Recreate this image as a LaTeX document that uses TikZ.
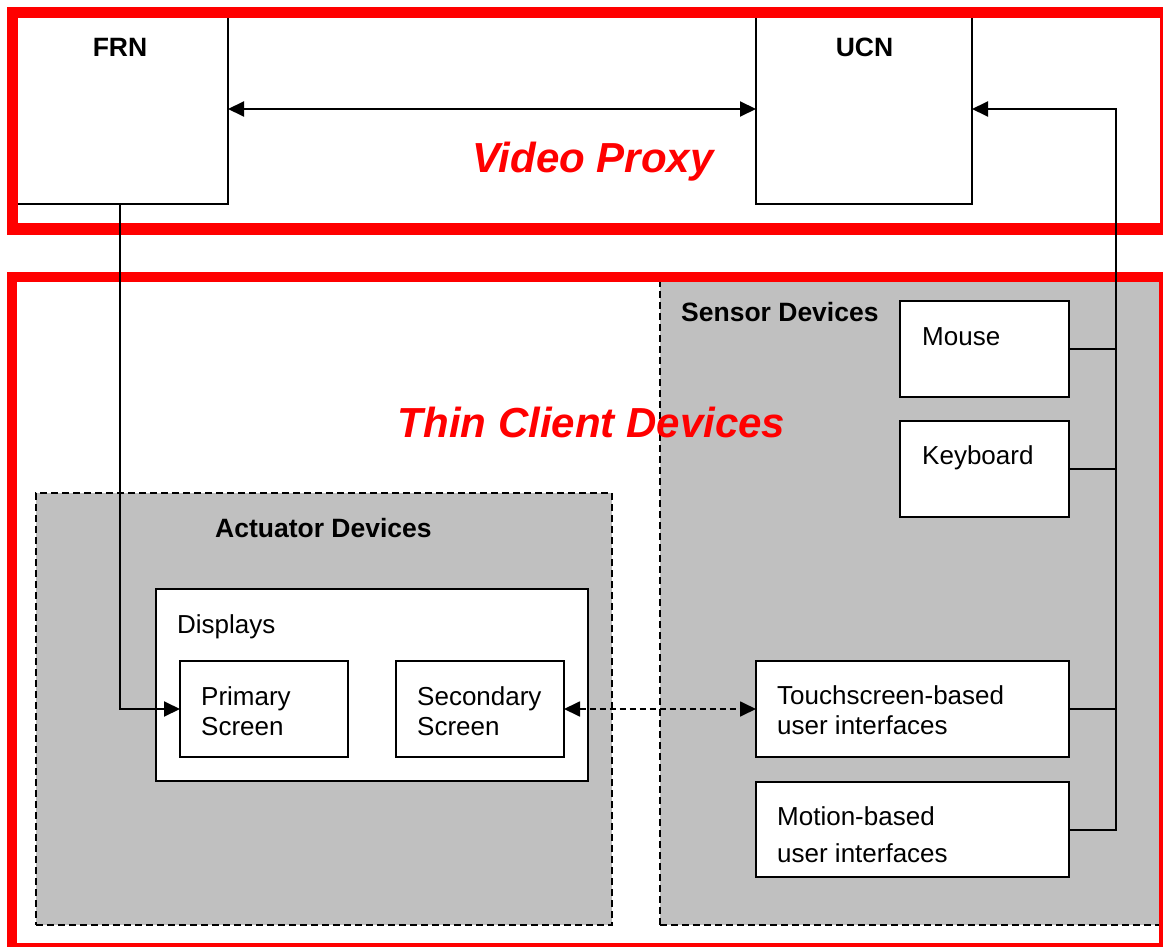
\documentclass[tikz,border=0pt]{standalone}
\usepackage{fontspec}
\setmainfont{Liberation Sans}
\usetikzlibrary{arrows.meta,fit}
\definecolor{framered}{HTML}{FF0000}
\definecolor{panel}{HTML}{C0C0C0}
\begin{document}
\begin{tikzpicture}[x=1pt,y=-1pt,
  >={Triangle[length=16pt,width=15pt]},
  wbox/.style={draw=black,fill=white,line width=2pt,inner sep=0pt,outer sep=0pt},
  group/.style={draw=black,fill=panel,line width=1.5pt,dash pattern=on 7pt off 4pt,inner sep=0pt,outer sep=0pt},
  redframe/.style={draw=framered,line width=11pt,inner sep=0pt,outer sep=0pt},
  lbl/.style={font=\fontsize{26}{30}\selectfont,inner sep=0pt,anchor=base west,align=left},
  blbl/.style={font=\fontsize{26.5}{30}\selectfont\bfseries,inner sep=0pt,anchor=base west},
  bigtitle/.style={text=framered,font=\fontsize{42}{50}\selectfont\bfseries\itshape,inner sep=0pt,anchor=base},
  conn/.style={draw=black,line width=2pt},
  dconn/.style={conn,line width=1.8pt,dash pattern=on 6pt off 4pt}
]
\fill[white] (0,0) rectangle (1163,947);
\clip (0,0) rectangle (1163,947);

% device groups
\node[group,fit={(660,278) (1166,925)}] (sensor) {};
\node[group,fit={(36,493) (612,925)}] (actuator) {};

% proxy nodes
\node[wbox,fit={(12,14) (228,204)}] (frn) {};
\node[wbox,fit={(756,14) (972,204)}] (ucn) {};

% red outer frames
\node[redframe,fit={(12,12.5) (1165,229)}] (proxy) {};
\node[redframe,line width=10pt,fit={(11.5,277) (1164,948)}] (thin) {};

% inner boxes
\node[wbox,fit={(156,589) (588,781)}] (displays) {};
\node[wbox,fit={(180,661) (348,757)}] (primary) {};
\node[wbox,fit={(396,661) (564,757)}] (secondary) {};
\node[wbox,fit={(900,301) (1069,397)}] (mouse) {};
\node[wbox,fit={(900,421) (1069,517)}] (keyboard) {};
\node[wbox,fit={(756,661) (1069,757)}] (touch) {};
\node[wbox,fit={(756,782) (1069,877)}] (motion) {};

% labels (multi-line labels are placed by the baseline of their last line)
\node[blbl,anchor=base] (frnL) at (120,57) {FRN};
\node[blbl,anchor=base] (ucnL) at (864.5,57) {UCN};
\node[bigtitle] (proxyL) at (593,173) {Video Proxy};
\node[bigtitle] (thinL) at (591.5,437) {Thin Client Devices};
\node[blbl] (sensorL) at (681,321) {Sensor Devices};
\node[blbl] (actuatorL) at (215,537) {Actuator Devices};
\node[lbl] (displaysL) at (177,633) {Displays};
\node[lbl] (primaryL) at (201,735) {Primary\\Screen};
\node[lbl] (secondaryL) at (417,735) {Secondary\\Screen};
\node[lbl] (mouseL) at (922,345) {Mouse};
\node[lbl] (keyboardL) at (922,464) {Keyboard};
\node[lbl] (touchL) at (777,734) {Touchscreen-based\\user interfaces};
\node[lbl] (motionL) at (777,862) {Motion-based\\[7pt]user interfaces};

% connectors
\coordinate (bus) at (1116,0);
\draw[conn,<->] (frn.east) -- (ucn.west);
\draw[conn,->] (motion.east) -- (motion.east -| bus) |- (ucn.east);
\draw[conn] (mouse.east) -- (mouse.east -| bus);
\draw[conn] (keyboard.east) -- (keyboard.east -| bus);
\draw[conn] (touch.east) -- (touch.east -| bus);
\draw[conn,->] (frn.south) |- (primary.west);
\draw[dconn,<->] (secondary.east) -- (touch.west);
\end{tikzpicture}
\end{document}
